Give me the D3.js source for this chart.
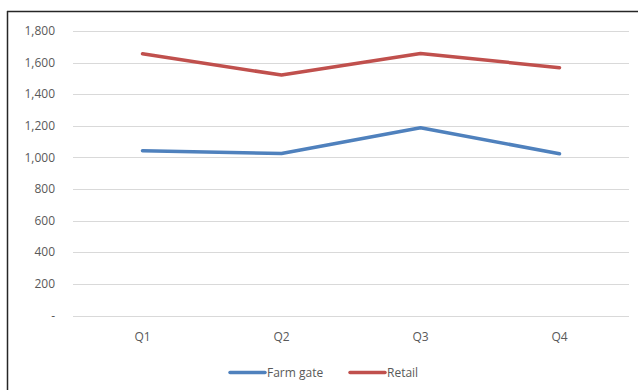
<!DOCTYPE html>
<html>
<head>
<meta charset="utf-8">
<script src="https://cdn.jsdelivr.net/npm/d3@7"></script>
<style>
  body { margin: 0; background: #fff; }
  svg text { font-family: "Open Sans", "Liberation Sans", sans-serif; fill: #595959; }
</style>
</head>
<body>
<div id="chart"></div>
<script>
  // data
  var quarters = ['Q1', 'Q2', 'Q3', 'Q4'];
  var farmGate = [1043, 1025, 1188, 1023];
  var retail = [1656, 1521, 1658, 1568];
  var yTicks = [0, 200, 400, 600, 800, 1000, 1200, 1400, 1600, 1800];
  var seriesNames = ['Farm gate', 'Retail'];
  var seriesColors = ['#4f81bd', '#c0504d'];

  var width = 638, height = 390;
  var margin = {top: 31, left: 73, right: 9, bottom: 74};

  var svg = d3.select('#chart').append('svg')
    .attr('width', width)
    .attr('height', height);

  // frame (only top and left edges visible)
  svg.append('line').attr('x1', 7).attr('x2', width).attr('y1', 11.5).attr('y2', 11.5)
    .style('stroke', '#262626').style('stroke-width', 1.5);
  svg.append('line').attr('x1', 7.5).attr('x2', 7.5).attr('y1', 11).attr('y2', height)
    .style('stroke', '#262626').style('stroke-width', 1.5);

  var x = d3.scaleBand()
    .domain(quarters)
    .range([margin.left, width - margin.right]);

  var y = d3.scaleLinear()
    .domain([0, 1800])
    .range([height - margin.bottom - 0.5, margin.top]);

  // gridlines
  svg.append('g').selectAll('line')
    .data(yTicks)
    .enter().append('line')
    .attr('x1', margin.left)
    .attr('x2', width - margin.right)
    .attr('y1', function(d) { return Math.round(y(d)) + 0.5; })
    .attr('y2', function(d) { return Math.round(y(d)) + 0.5; })
    .style('stroke', '#d9d9d9')
    .style('stroke-width', 1);

  // y labels
  var fmt = d3.format(',');
  svg.append('g').selectAll('text')
    .data(yTicks)
    .enter().append('text')
    .attr('x', 55)
    .attr('y', function(d) { return y(d); })
    .attr('dy', '0.35em')
    .attr('text-anchor', 'end')
    .style('font-size', '12px')
    .text(function(d) { return d === 0 ? '-' : fmt(d); });

  // x labels
  svg.append('g').selectAll('text')
    .data(quarters)
    .enter().append('text')
    .attr('x', function(d) { return x(d) + x.bandwidth() / 2; })
    .attr('y', y(0) + 21)
    .attr('dy', '0.35em')
    .attr('text-anchor', 'middle')
    .style('font-size', '12px')
    .text(function(d) { return d; });

  // lines
  var line = d3.line()
    .x(function(d, i) { return x(quarters[i]) + x.bandwidth() / 2; })
    .y(function(d) { return y(d); });

  [farmGate, retail].forEach(function(s, i) {
    svg.append('path')
      .datum(s)
      .attr('d', line)
      .style('fill', 'none')
      .style('stroke', seriesColors[i])
      .style('stroke-width', 3.5)
      .style('stroke-linecap', 'round')
      .style('stroke-linejoin', 'round');
  });

  // legend
  var legendX = [230, 350];
  var legend = svg.append('g').selectAll('g')
    .data(seriesNames)
    .enter().append('g')
    .attr('transform', function(d, i) { return 'translate(' + legendX[i] + ',372.5)'; });
  legend.append('line')
    .attr('x1', 0).attr('x2', 35)
    .style('stroke', function(d, i) { return seriesColors[i]; })
    .style('stroke-width', 3.5)
    .style('stroke-linecap', 'round');
  legend.append('text')
    .attr('x', 37)
    .attr('dy', '0.35em')
    .style('font-size', '12px')
    .text(function(d) { return d; });
</script>
</body>
</html>
